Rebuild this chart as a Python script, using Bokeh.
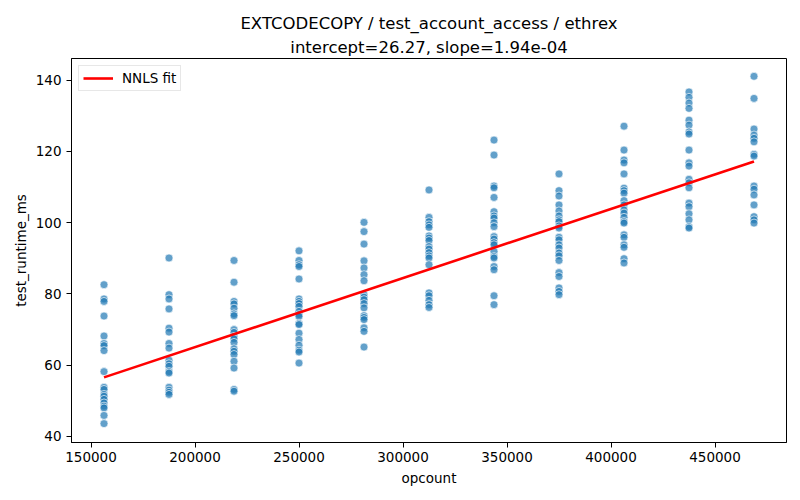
from bokeh.plotting import figure
from bokeh.models import Title, FixedTicker, Range1d, Legend, LegendItem, BasicTickFormatter
from bokeh.embed import file_html
from bokeh.resources import INLINE

# ---- data ----
opcount_levels = [156250, 187500, 218750, 250000, 281250, 312500,
                  343750, 375000, 406250, 437500, 468750]

runtime_156250 = [82.6, 78.6, 77.9, 73.8, 68.2, 66.1, 65.5, 64.1, 58.2, 53.8,
                  53.2, 51.8, 51.3, 50.4, 49.4, 48.5, 48.0, 45.9, 43.6]
runtime_187500 = [90.1, 79.8, 78.6, 75.8, 70.4, 69.3, 66.1, 64.8, 61.4, 60.4,
                  59.7, 58.2, 57.8, 53.8, 53.0, 52.4, 51.8]
runtime_218750 = [89.4, 83.3, 77.9, 77.2, 76.0, 74.4, 73.9, 70.0, 69.2, 68.1,
                  67.4, 66.4, 64.6, 63.9, 63.0, 61.1, 59.2, 53.2, 52.7]
runtime_250000 = [92.1, 89.4, 88.2, 87.7, 84.2, 78.6, 77.9, 77.3, 76.5, 75.1,
                  74.2, 73.7, 71.7, 71.4, 69.0, 67.2, 65.6, 64.2, 63.7, 60.6]
runtime_281250 = [100.1, 97.5, 94.0, 89.3, 87.3, 85.4, 83.7, 79.8, 79.1, 78.4,
                  77.3, 76.1, 73.9, 73.4, 72.8, 70.5, 69.5, 65.1]
runtime_312500 = [109.2, 101.5, 100.3, 99.4, 98.7, 96.3, 95.7, 95.0, 93.3, 92.6,
                  91.6, 90.7, 90.1, 88.2, 80.3, 79.5, 78.2, 77.0, 76.2]
runtime_343750 = [123.2, 119.0, 110.3, 109.8, 107.1, 103.1, 101.9, 101.3, 100.0,
                  98.9, 96.1, 95.4, 94.4, 93.8, 91.9, 90.5, 90.1, 87.7, 86.8,
                  79.5, 77.0]
runtime_375000 = [113.7, 109.0, 107.5, 105.0, 103.3, 101.9, 100.8, 100.3, 99.1,
                  98.5, 95.9, 95.2, 93.8, 92.9, 91.5, 90.7, 89.4, 86.0, 84.9,
                  81.7, 80.7, 79.8]
runtime_406250 = [127.1, 120.4, 117.6, 116.8, 113.7, 109.7, 109.0, 108.3, 106.2,
                  105.0, 103.6, 102.7, 101.5, 100.3, 99.9, 96.6, 95.9, 93.8,
                  93.1, 89.9, 88.7]
runtime_437500 = [136.7, 135.2, 133.6, 132.1, 128.8, 127.4, 125.5, 124.9, 120.4,
                  116.8, 115.9, 112.2, 111.2, 109.8, 105.5, 104.5, 102.5, 100.8,
                  98.9, 98.5]
runtime_468750 = [141.1, 134.9, 126.3, 124.6, 123.7, 122.7, 119.2, 118.7, 110.3,
                  109.4, 107.8, 105.0, 101.7, 100.8, 99.9]

fit_intercept = 26.27
fit_slope = 1.94e-04

x_ticks = [150000, 200000, 250000, 300000, 350000, 400000, 450000]
y_ticks = [40, 60, 80, 100, 120, 140]

title_line1 = "EXTCODECOPY / test_account_access / ethrex"
title_line2 = "intercept=26.27, slope=1.94e-04"

# ---- assemble ----
runtime_groups = [runtime_156250, runtime_187500, runtime_218750, runtime_250000,
                  runtime_281250, runtime_312500, runtime_343750, runtime_375000,
                  runtime_406250, runtime_437500, runtime_468750]
xs, ys = [], []
for oc, grp in zip(opcount_levels, runtime_groups):
    xs.extend([oc] * len(grp))
    ys.extend(grp)

fit_x = [min(opcount_levels), max(opcount_levels)]
fit_y = [fit_intercept + fit_slope * v for v in fit_x]

FONT = "DejaVu Sans"

p = figure(width=792, height=492, output_backend="svg", toolbar_location=None,
           x_range=Range1d(140625, 484375), y_range=Range1d(38.3, 146.1),
           min_border_left=71, min_border_right=6, min_border_top=58,
           min_border_bottom=50)

p.add_layout(Title(text=title_line2, align="center", text_font=FONT,
                   text_font_size="16.5px", text_font_style="normal",
                   text_color="black", standoff=4), "above")
p.add_layout(Title(text=title_line1, align="center", text_font=FONT,
                   text_font_size="16.5px", text_font_style="normal",
                   text_color="black", standoff=2), "above")

p.grid.visible = False
p.outline_line_color = "black"
p.outline_line_width = 1
p.background_fill_color = "white"
p.border_fill_color = "white"

for ax in (p.xaxis[0], p.yaxis[0]):
    ax.major_tick_out = 5
    ax.major_tick_in = 0
    ax.minor_tick_line_color = None
    ax.axis_line_color = "black"
    ax.major_tick_line_color = "black"
    ax.major_label_text_font = FONT
    ax.major_label_text_font_size = "13.5px"
    ax.major_label_text_color = "black"
    ax.axis_label_text_font = FONT
    ax.axis_label_text_font_size = "13.5px"
    ax.axis_label_text_font_style = "normal"
    ax.axis_label_text_color = "black"

p.xaxis[0].ticker = FixedTicker(ticks=x_ticks)
p.yaxis[0].ticker = FixedTicker(ticks=y_ticks)
p.xaxis[0].formatter = BasicTickFormatter(use_scientific=False)
p.xaxis[0].axis_label = "opcount"
p.yaxis[0].axis_label = "test_runtime_ms"
p.xaxis[0].major_label_standoff = 4
p.yaxis[0].major_label_standoff = 5
p.xaxis[0].axis_label_standoff = 5
p.yaxis[0].axis_label_standoff = 4

p.scatter(xs, ys, size=8, fill_color="#1f77b4", fill_alpha=0.7,
          line_color="white", line_alpha=0.8, line_width=0.8)

fit_r = p.line(fit_x, fit_y, line_color="red", line_width=2.6)

legend = Legend(items=[LegendItem(label="NNLS fit", renderers=[fit_r])],
                location="top_left", label_text_font=FONT,
                label_text_font_size="13.5px", label_text_color="black",
                glyph_width=30, glyph_height=16,
                label_height=16, label_standoff=9, padding=4, spacing=0,
                margin=7, border_line_color="#d0d0d0", border_line_width=1,
                background_fill_alpha=0.8)
p.add_layout(legend)

open("out.html", "w").write(file_html(p, INLINE))
